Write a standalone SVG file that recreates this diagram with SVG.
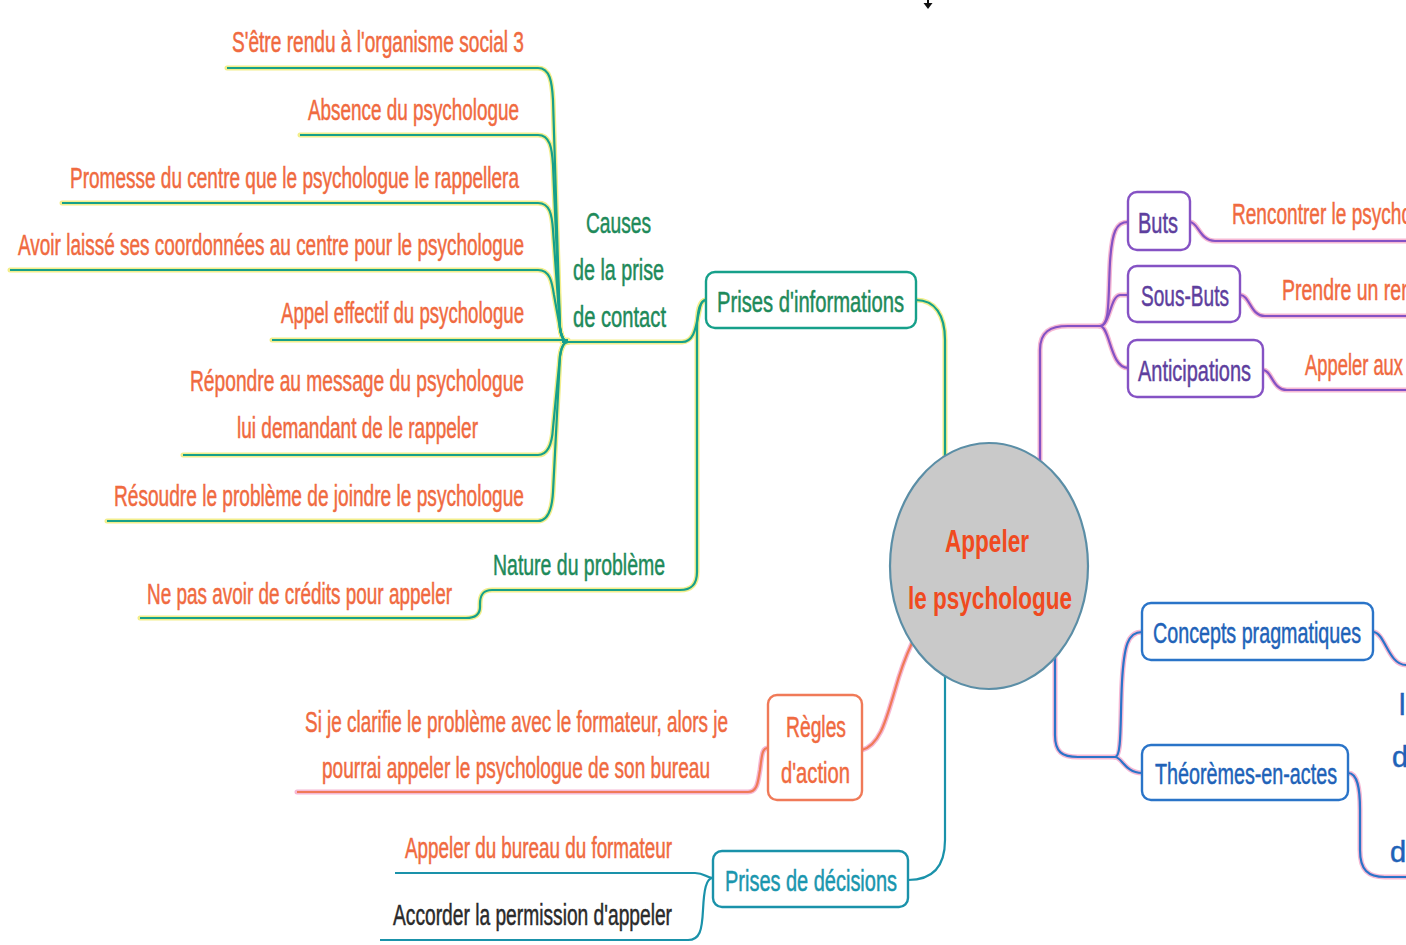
<svg xmlns="http://www.w3.org/2000/svg" width="1406" height="945" viewBox="0 0 1406 945">
<style>
text{font-family:"Liberation Sans",Arial,sans-serif;font-size:29px;stroke-width:0.5px}
.lf{fill:#f06a40;stroke:#f06a40}
.gn{fill:#1e8a5a;stroke:#1e8a5a}
.pu{fill:#5e3f9e;stroke:#5e3f9e}
.bl{fill:#2062b8;stroke:#2062b8}
.tl{fill:#1a96ae;stroke:#1a96ae}
.dk{fill:#2a2a2a;stroke:#2a2a2a}
.ctr{fill:#f04a20;font-weight:bold;font-size:32px;stroke:none}
.glowy{fill:none;stroke:#f2ee8c;stroke-width:5;stroke-linecap:round}
.glowp{fill:none;stroke:#f6b8d4;stroke-width:5;stroke-linecap:round}
.lg{fill:none;stroke:#16a08a;stroke-width:2.2}
.lp{fill:none;stroke:#8552c4;stroke-width:2.2}
.lb{fill:none;stroke:#2a74c8;stroke-width:2.2}
.lt{fill:none;stroke:#1a92aa;stroke-width:2.2}
.lo{fill:none;stroke:#f07a58;stroke-width:2.2}
.box{fill:#fff;stroke-width:2.4}
</style>
<rect width="1406" height="945" fill="#ffffff"/>
<g id="top-arrow">
<path d="M928 0 V4" stroke="#111" stroke-width="2"/>
<path d="M923.5 3 H932.5 L928 9 Z" fill="#111"/>
</g>
<g id="connectors">
<g class="glowy">
<path d="M227 68 H538 C550 68 552 82 553 100 L560 328 Q562 342 568 342"/>
<path d="M300 135 H538 C550 135 552 148 553 165 L560 328 Q562 342 568 342"/>
<path d="M62 203 H538 C550 203 552 215 553 230 L560 328 Q562 342 568 342"/>
<path d="M10 270 H538 C550 270 552 282 554 295 L560 328 Q562 342 568 342"/>
<path d="M272 340 H568"/>
<path d="M183 455 H538 C548 455 552 445 553 428 L560 356 Q562 342 568 342"/>
<path d="M107 521 H538 C548 521 552 510 553 492 L560 356 Q562 342 568 342"/>
<path d="M562 342 H682 C695 342 696 325 699 312 Q701 300 706 300"/>
<path d="M706 300 C699 300 697 312 697 330 V572 C697 586 690 590 680 590 H492 C482 590 480 596 480 604 V607 C480 615 475 618 466 618 H140"/>
<path d="M916 300 C935 300 945 315 945 340 V456"/>
</g>
<g class="lg">
<path d="M227 68 H538 C550 68 552 82 553 100 L560 328 Q562 342 568 342"/>
<path d="M300 135 H538 C550 135 552 148 553 165 L560 328 Q562 342 568 342"/>
<path d="M62 203 H538 C550 203 552 215 553 230 L560 328 Q562 342 568 342"/>
<path d="M10 270 H538 C550 270 552 282 554 295 L560 328 Q562 342 568 342"/>
<path d="M272 340 H568"/>
<path d="M183 455 H538 C548 455 552 445 553 428 L560 356 Q562 342 568 342"/>
<path d="M107 521 H538 C548 521 552 510 553 492 L560 356 Q562 342 568 342"/>
<path d="M562 342 H682 C695 342 696 325 699 312 Q701 300 706 300"/>
<path d="M706 300 C699 300 697 312 697 330 V572 C697 586 690 590 680 590 H492 C482 590 480 596 480 604 V607 C480 615 475 618 466 618 H140"/>
<path d="M916 300 C935 300 945 315 945 340 V456"/>
</g>
<g class="glowp">
<path d="M862 750 C880 745 886 720 895 690 C900 672 905 658 912 643"/>
<path d="M297 792 H748 C758 792 758 780 760 770 C762 755 762 748 768 748"/>
<path d="M1040 461 V350 C1040 332 1050 326 1068 326 H1100"/>
<path d="M1100 326 C1110 326 1108 300 1110 262 C1112 232 1116 222 1128 222"/>
<path d="M1100 326 C1110 326 1110 296 1120 295 H1128"/>
<path d="M1100 326 C1110 326 1110 368 1128 368"/>
<path d="M1190 222 C1198 222 1200 241 1215 241 H1406"/>
<path d="M1240 295 C1250 295 1250 316 1265 316 H1406"/>
<path d="M1263 370 C1272 370 1272 390 1287 390 H1406"/>
<path d="M1055 658 V735 C1055 752 1062 757 1078 757 H1115"/>
<path d="M1115 757 C1122 757 1120 720 1122 682 C1124 645 1128 632 1142 632"/>
<path d="M1115 757 C1122 757 1125 773 1142 773"/>
<path d="M1373 632 C1385 632 1388 665 1406 665"/>
<path d="M1348 773 C1358 773 1360 790 1360 810 V850 C1360 870 1368 877 1385 877 H1406"/>
</g>
<path class="lo" d="M862 750 C880 745 886 720 895 690 C900 672 905 658 912 643"/>
<path class="lo" d="M297 792 H748 C758 792 758 780 760 770 C762 755 762 748 768 748"/>
<g class="lt">
<path d="M945 676 V840 C945 868 932 880 908 880"/>
<path d="M395 873 H695 C705 873 706 878 713 878"/>
<path d="M380 940 H688 C700 940 702 930 703 910 C704 890 706 878 713 878"/>
</g>
<g class="lp">
<path d="M1040 461 V350 C1040 332 1050 326 1068 326 H1100"/>
<path d="M1100 326 C1110 326 1108 300 1110 262 C1112 232 1116 222 1128 222"/>
<path d="M1100 326 C1110 326 1110 296 1120 295 H1128"/>
<path d="M1100 326 C1110 326 1110 368 1128 368"/>
<path d="M1190 222 C1198 222 1200 241 1215 241 H1406"/>
<path d="M1240 295 C1250 295 1250 316 1265 316 H1406"/>
<path d="M1263 370 C1272 370 1272 390 1287 390 H1406"/>
</g>
<g class="lb">
<path d="M1055 658 V735 C1055 752 1062 757 1078 757 H1115"/>
<path d="M1115 757 C1122 757 1120 720 1122 682 C1124 645 1128 632 1142 632"/>
<path d="M1115 757 C1122 757 1125 773 1142 773"/>
<path d="M1373 632 C1385 632 1388 665 1406 665"/>
<path d="M1348 773 C1358 773 1360 790 1360 810 V850 C1360 870 1368 877 1385 877 H1406"/>
</g>
</g>
<g id="center">
<ellipse cx="989" cy="566" rx="99" ry="123" fill="#c9c9c9" stroke="#5b8ea6" stroke-width="2.2"/>
<text class="ctr" x="945" y="552" textLength="84" lengthAdjust="spacingAndGlyphs">Appeler</text>
<text class="ctr" x="908" y="609" textLength="164" lengthAdjust="spacingAndGlyphs">le psychologue</text>
</g>
<g id="prises-informations">
<rect class="box" x="706" y="272" width="210" height="56" rx="9" stroke="#16a08a"/>
<text class="gn" x="717" y="312" textLength="187" lengthAdjust="spacingAndGlyphs">Prises d'informations</text>
</g>
<g id="causes">
<text class="gn" x="586" y="233" textLength="65" lengthAdjust="spacingAndGlyphs">Causes</text>
<text class="gn" x="573" y="280" textLength="91" lengthAdjust="spacingAndGlyphs">de la prise</text>
<text class="gn" x="573" y="327" textLength="93" lengthAdjust="spacingAndGlyphs">de contact</text>
</g>
<g id="leaf-1"><text class="lf" x="232" y="52" textLength="292" lengthAdjust="spacingAndGlyphs">S'être rendu à l'organisme social 3</text></g>
<g id="leaf-2"><text class="lf" x="308" y="120" textLength="211" lengthAdjust="spacingAndGlyphs">Absence du psychologue</text></g>
<g id="leaf-3"><text class="lf" x="70" y="188" textLength="449" lengthAdjust="spacingAndGlyphs">Promesse du centre que le psychologue le rappellera</text></g>
<g id="leaf-4"><text class="lf" x="18" y="255" textLength="506" lengthAdjust="spacingAndGlyphs">Avoir laissé ses coordonnées au centre pour le psychologue</text></g>
<g id="leaf-5"><text class="lf" x="281" y="323" textLength="243" lengthAdjust="spacingAndGlyphs">Appel effectif du psychologue</text></g>
<g id="leaf-6">
<text class="lf" x="190" y="391" textLength="334" lengthAdjust="spacingAndGlyphs">Répondre au message du psychologue</text>
<text class="lf" x="237" y="438" textLength="241" lengthAdjust="spacingAndGlyphs">lui demandant de le rappeler</text>
</g>
<g id="leaf-7"><text class="lf" x="114" y="506" textLength="410" lengthAdjust="spacingAndGlyphs">Résoudre le problème de joindre le psychologue</text></g>
<g id="nature"><text class="gn" x="493" y="575" textLength="172" lengthAdjust="spacingAndGlyphs">Nature du problème</text></g>
<g id="leaf-credits"><text class="lf" x="147" y="604" textLength="305" lengthAdjust="spacingAndGlyphs">Ne pas avoir de crédits pour appeler</text></g>
<g id="regles">
<rect class="box" x="768" y="695" width="94" height="105" rx="9" stroke="#f07a58"/>
<text class="lf" x="786" y="737" textLength="60" lengthAdjust="spacingAndGlyphs">Règles</text>
<text class="lf" x="781" y="783" textLength="69" lengthAdjust="spacingAndGlyphs">d'action</text>
</g>
<g id="leaf-regle">
<text class="lf" x="305" y="732" textLength="423" lengthAdjust="spacingAndGlyphs">Si je clarifie le problème avec le formateur, alors je</text>
<text class="lf" x="322" y="778" textLength="388" lengthAdjust="spacingAndGlyphs">pourrai appeler le psychologue de son bureau</text>
</g>
<g id="decisions">
<rect class="box" x="713" y="851" width="195" height="56" rx="9" stroke="#1a92aa"/>
<text class="tl" x="725" y="891" textLength="172" lengthAdjust="spacingAndGlyphs">Prises de décisions</text>
</g>
<g id="leaf-bureau"><text class="lf" x="405" y="858" textLength="267" lengthAdjust="spacingAndGlyphs">Appeler du bureau du formateur</text></g>
<g id="leaf-permission"><text class="dk" x="393" y="925" textLength="279" lengthAdjust="spacingAndGlyphs">Accorder la permission d'appeler</text></g>
<g id="buts">
<rect class="box" x="1128" y="192" width="62" height="58" rx="9" stroke="#8552c4"/>
<text class="pu" x="1138" y="233" textLength="40" lengthAdjust="spacingAndGlyphs">Buts</text>
</g>
<g id="sous-buts">
<rect class="box" x="1128" y="266" width="112" height="56" rx="9" stroke="#8552c4"/>
<text class="pu" x="1141" y="306" textLength="88" lengthAdjust="spacingAndGlyphs">Sous-Buts</text>
</g>
<g id="anticipations">
<rect class="box" x="1128" y="340" width="135" height="57" rx="9" stroke="#8552c4"/>
<text class="pu" x="1138" y="381" textLength="113" lengthAdjust="spacingAndGlyphs">Anticipations</text>
</g>
<g id="leaf-buts"><text class="lf" x="1232" y="224" textLength="180" lengthAdjust="spacingAndGlyphs">Rencontrer le psycho</text></g>
<g id="leaf-sous-buts"><text class="lf" x="1282" y="300" textLength="130" lengthAdjust="spacingAndGlyphs">Prendre un ren</text></g>
<g id="leaf-anticipations"><text class="lf" x="1305" y="375" textLength="98" lengthAdjust="spacingAndGlyphs">Appeler aux</text></g>
<g id="concepts">
<rect class="box" x="1142" y="603" width="231" height="57" rx="9" stroke="#2a74c8"/>
<text class="bl" x="1153" y="643" textLength="208" lengthAdjust="spacingAndGlyphs">Concepts pragmatiques</text>
</g>
<g id="theoremes">
<rect class="box" x="1142" y="745" width="206" height="55" rx="9" stroke="#2a74c8"/>
<text class="bl" x="1155" y="784" textLength="182" lengthAdjust="spacingAndGlyphs">Théorèmes-en-actes</text>
</g>
<g id="leaf-right">
<text class="bl" x="1399" y="715">l</text>
<text class="bl" x="1392" y="767">de</text>
<text class="bl" x="1390" y="862">du</text>
</g>
</svg>
